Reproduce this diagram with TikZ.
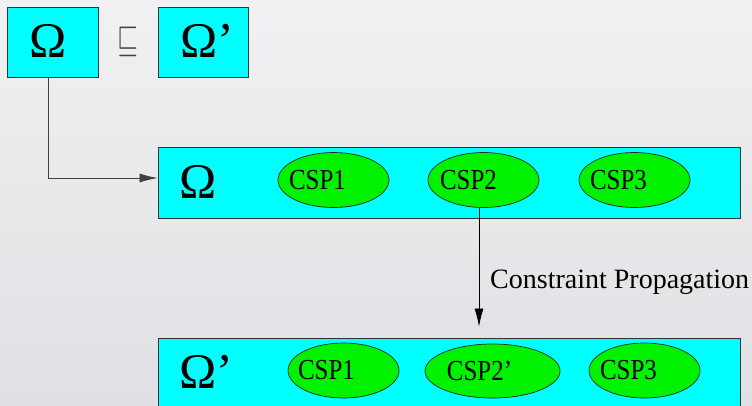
\documentclass[tikz,border=0pt]{standalone}
\usepackage{fontspec}
\setmainfont{Liberation Serif}
\newfontfamily\narrowserif[FakeStretch=0.86]{Liberation Serif}
\usetikzlibrary{shapes.geometric,arrows.meta}
\definecolor{paneCyan}{HTML}{00FFFF}
\definecolor{cspGreen}{HTML}{00F200}
\definecolor{bgTop}{HTML}{F1F1F3}
\definecolor{bgBottom}{HTML}{DFE0E3}
\tikzset{
  pane/.style={draw=black!80, line width=0.9pt, fill=paneCyan, inner sep=0pt},
  csp/.style={ellipse, draw=black!85, line width=0.7pt, fill=cspGreen, inner sep=0pt},
  csptext/.style={inner sep=0pt, font=\narrowserif\fontsize{29}{29}\selectfont},
  omega/.style={font=\fontsize{50}{50}\selectfont, inner sep=0pt, anchor=base west},
  link/.style={line width=0.8pt, -{Latex[length=18pt,width=9pt]}},
}
\begin{document}
\begin{tikzpicture}[x=1pt,y=-1pt]
  \useasboundingbox (0,0) rectangle (752,405);
  \clip (0,0) rectangle (752,405);
  \shade[top color=bgTop, bottom color=bgBottom] (0,0) rectangle (752,405);

  % the two ordered spaces
  \node[pane, minimum width=91pt, minimum height=70pt] (om) at (52.5,42) {};
  \node[omega] (omT) at (29,57) {Ω};
  \node[pane, minimum width=90pt, minimum height=70pt] (omp) at (203,42) {};
  \node[omega] (ompT) at (180,57) {Ω’};
  \node[inner sep=0pt, text=black!75] (order) at (127.5,42)
    {\scalebox{1.3}[1.85]{\fontsize{20.74}{20.74}\selectfont$\sqsubseteq$}};

  % first store with its constraint problems
  \node[pane, minimum width=582pt, minimum height=71pt] (storeA) at (449,182.5) {};
  \node[omega] (omA) at (179,198) {Ω};
  \node[csp, minimum width=111pt, minimum height=55pt] (aone) at (333.5,180) {};
  \node[csp, minimum width=111pt, minimum height=55pt] (atwo) at (483.5,180) {};
  \node[csp, minimum width=111pt, minimum height=55pt] (athree) at (634.5,180) {};
  \node[csptext] (aoneT) at ([xshift=-16pt]aone.center) {CSP1};
  \node[csptext] (atwoT) at ([xshift=-15pt]atwo.center) {CSP2};
  \node[csptext] (athreeT) at ([xshift=-16pt]athree.center) {CSP3};

  % second store after propagation
  \node[pane, minimum width=582pt, minimum height=72pt] (storeB) at (449,374) {};
  \node[omega] (omB) at (179,388) {Ω’};
  \node[csp, minimum width=111pt, minimum height=55pt] (bone) at (343.5,370.5) {};
  \node[csp, minimum width=135pt, minimum height=54pt] (btwo) at (492.5,371) {};
  \node[csp, minimum width=111pt, minimum height=55pt] (bthree) at (644.5,370.5) {};
  \node[csptext] (boneT) at ([xshift=-17pt]bone.center) {CSP1};
  \node[csptext] (btwoT) at ([xshift=-13pt]btwo.center) {CSP2’};
  \node[csptext] (bthreeT) at ([xshift=-16pt]bthree.center) {CSP3};

  % connectors
  \draw[link, draw=black!75] ([xshift=-4.5pt]om.south) |- ([yshift=4.5pt]storeA.west);
  \draw[link, shorten >=11pt] ([xshift=-4.5pt]atwo.south) -- ([xshift=-4.5pt]atwo.south |- storeB.north);
  \node[inner sep=0pt, anchor=base west, font=\fontsize{28}{28}\selectfont] (prop) at (490,288)
    {Constraint Propagation};
\end{tikzpicture}
\end{document}
